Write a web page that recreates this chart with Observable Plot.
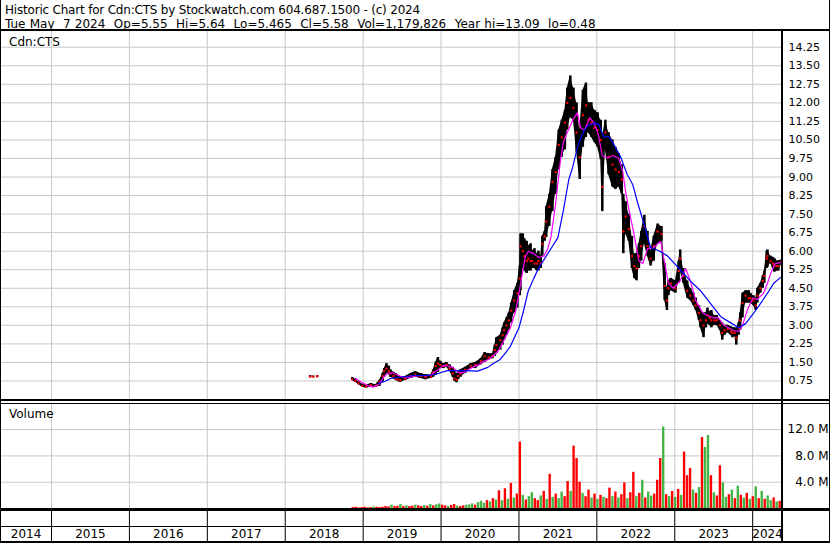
<!DOCTYPE html>
<html><head><meta charset="utf-8">
<script src="https://cdn.jsdelivr.net/npm/d3@7"></script>
<script src="https://cdn.jsdelivr.net/npm/@observablehq/plot@0.6"></script>
<style>
html,body{margin:0;padding:0;background:#fff;}
#chart{position:relative;width:830px;height:543px;overflow:hidden;font-family:"DejaVu Sans",sans-serif;background:#fff;}
.t{position:absolute;white-space:pre;font-size:12px;color:#000;line-height:12px;}
.hl{position:absolute;background:#000;}
#chart svg{position:absolute;left:0;overflow:visible;}
</style></head><body><div id="chart"></div>
<script>
// ---------- header text ----------
const headerLine1 = "Historic Chart for Cdn:CTS by Stockwatch.com 604.687.1500 - (c) 2024";
const headerLine2 = "Tue May  7 2024  Op=5.55  Hi=5.64  Lo=5.465  Cl=5.58  Vol=1,179,826  Year hi=13.09  lo=0.48";
const symbolLabel = "Cdn:CTS";
const volumeLabel = "Volume";

// ---------- axis values ----------
const priceTicks = [0.75,1.50,2.25,3.00,3.75,4.50,5.25,6.00,6.75,7.50,8.25,9.00,9.75,10.50,11.25,12.00,12.75,13.50,14.25];
const volTicks = [4, 8, 12];
const yearBounds = [2015,2016,2017,2018,2019,2020,2021,2022,2023,2024];
const yearLabels = [2014,2015,2016,2017,2018,2019,2020,2021,2022,2023,2024];

// ---------- price bars (decimal year, low, high, close) ----------
const priceDate = [
 2018.32,2018.36,2018.41,2018.86,2018.90,2018.94,2018.99,2019.04,2019.10,2019.16,
 2019.21,2019.25,2019.27,2019.30,2019.33,2019.35,2019.39,2019.42,2019.45,2019.48,
 2019.54,2019.61,2019.67,2019.74,2019.80,2019.87,2019.90,2019.93,2019.96,2019.99,
 2020.03,2020.07,2020.11,2020.15,2020.17,2020.20,2020.22,2020.25,2020.31,2020.38,
 2020.44,2020.51,2020.56,2020.61,2020.66,2020.69,2020.71,2020.76,2020.79,2020.81,
 2020.84,2020.87,2020.90,2020.94,2020.98,2021.01,2021.02,2021.05,2021.07,2021.10,
 2021.12,2021.15,2021.17,2021.20,2021.23,2021.25,2021.28,2021.30,2021.33,2021.35,
 2021.39,2021.43,2021.47,2021.51,2021.55,2021.59,2021.62,2021.66,2021.70,2021.74,
 2021.78,2021.82,2021.86,2021.89,2021.93,2021.97,2022.01,2022.05,2022.07,2022.11,
 2022.15,2022.20,2022.24,2022.28,2022.32,2022.34,2022.37,2022.41,2022.45,2022.48,
 2022.51,2022.54,2022.57,2022.61,2022.65,2022.69,2022.73,2022.78,2022.83,2022.87,
 2022.90,2022.92,2022.95,2023.01,2023.05,2023.07,2023.11,2023.16,2023.20,2023.24,
 2023.27,2023.31,2023.33,2023.37,2023.40,2023.42,2023.45,2023.47,2023.51,2023.54,
 2023.58,2023.61,2023.64,2023.68,2023.72,2023.74,2023.77,2023.79,2023.82,2023.84,
 2023.87,2023.91,2023.95,2023.97,2024.01,2024.04,2024.06,2024.10,2024.13,2024.15,
 2024.18,2024.19,2024.23,2024.26,2024.28,2024.31,2024.33,2024.37];
const priceLow = [
 0.88,0.90,0.88,0.77,0.70,0.61,0.50,0.47,0.50,0.50,
 0.53,0.70,0.90,1.05,1.00,0.90,0.85,0.77,0.72,0.70,
 0.77,0.85,0.90,0.85,0.80,0.85,0.90,0.97,1.10,1.25,
 1.25,1.30,1.15,0.90,0.75,0.68,0.80,0.90,1.05,1.25,
 1.25,1.40,1.50,1.60,1.65,1.75,1.85,2.00,2.20,2.40,
 2.60,2.80,3.10,3.50,3.70,4.20,4.40,5.30,5.20,5.10,
 5.20,5.20,5.30,5.30,5.20,5.20,5.30,5.80,6.40,6.55,
 7.00,7.60,8.30,9.30,9.80,10.10,10.90,11.40,11.30,10.00,
 8.90,10.20,10.60,10.80,10.60,10.40,10.20,9.70,7.60,10.10,
 9.10,8.60,8.50,8.60,8.30,5.90,6.70,6.40,5.30,4.90,
 4.80,5.30,5.60,6.30,5.80,5.40,5.60,6.30,6.40,4.00,
 3.60,4.20,4.40,4.30,4.70,5.20,4.70,4.10,4.00,3.80,
 3.60,3.20,2.90,2.50,2.90,3.05,3.00,2.90,3.00,3.00,
 2.80,2.40,2.60,2.70,2.60,2.50,2.55,2.20,2.60,2.80,
 3.30,3.90,3.90,3.90,3.80,3.60,3.90,4.30,4.50,4.70,
 5.30,5.35,5.50,5.30,5.15,5.20,5.20,5.465];
const priceHigh = [
 0.97,0.95,0.97,0.89,0.82,0.72,0.62,0.58,0.65,0.60,
 0.77,1.05,1.25,1.45,1.35,1.20,1.10,1.05,0.95,0.90,
 0.93,1.05,1.13,1.05,1.00,1.00,1.20,1.50,1.70,1.55,
 1.45,1.50,1.40,1.30,1.15,1.05,1.10,1.20,1.30,1.45,
 1.50,1.65,1.90,1.85,1.85,2.20,2.50,2.60,2.90,3.10,
 3.30,3.50,3.90,4.40,4.70,5.40,6.70,6.70,6.50,6.40,
 6.20,6.30,6.00,6.10,5.90,6.00,5.80,6.60,6.80,7.80,
 8.30,9.30,9.80,10.90,11.30,11.70,12.60,13.09,12.60,12.00,
 10.90,12.50,12.80,12.00,12.00,11.70,11.60,11.30,10.60,11.30,
 10.80,10.50,10.20,9.95,9.50,8.30,8.00,7.50,6.60,5.90,
 5.90,6.30,6.80,7.45,6.80,6.00,6.60,7.10,7.00,5.50,
 4.50,4.80,4.90,4.80,5.60,6.05,5.30,4.80,4.50,4.30,
 4.10,3.80,3.60,3.50,3.50,3.70,3.55,3.60,3.40,3.40,
 3.20,3.10,3.00,3.00,2.95,2.90,2.90,2.85,3.10,3.50,
 4.30,4.40,4.40,4.30,4.20,4.10,4.50,4.70,5.00,5.20,
 6.00,6.05,5.80,5.75,5.70,5.60,5.60,5.64];
const priceClose = [
 0.93,0.92,0.95,0.82,0.75,0.65,0.55,0.52,0.58,0.55,
 0.72,0.95,1.15,1.25,1.15,1.05,0.95,0.85,0.80,0.78,
 0.85,0.95,1.00,0.95,0.90,0.92,1.10,1.35,1.45,1.40,
 1.35,1.40,1.25,1.05,0.85,0.80,0.95,1.05,1.20,1.35,
 1.40,1.55,1.75,1.70,1.75,2.00,2.20,2.40,2.60,2.80,
 3.00,3.20,3.60,4.00,4.30,4.90,6.20,6.00,5.80,5.60,
 5.70,5.60,5.60,5.50,5.50,5.60,5.50,6.30,6.60,7.20,
 7.80,8.80,9.20,10.30,10.60,11.20,12.00,12.20,11.80,10.80,
 9.80,11.50,11.90,11.30,11.20,11.00,10.90,10.50,8.60,10.80,
 9.80,9.50,9.30,9.20,8.90,6.80,7.40,6.90,5.80,5.40,
 5.30,5.80,6.20,7.00,6.20,5.70,6.20,6.80,6.70,4.60,
 4.00,4.50,4.70,4.50,5.20,5.70,5.00,4.40,4.20,4.00,
 3.80,3.50,3.20,3.00,3.20,3.40,3.30,3.20,3.20,3.20,
 3.00,2.70,2.80,2.85,2.75,2.70,2.70,2.50,2.90,3.20,
 3.90,4.20,4.10,4.10,4.00,3.80,4.20,4.50,4.80,5.00,
 5.70,5.80,5.60,5.50,5.40,5.40,5.40,5.58];

// ---------- moving averages ----------
const fastMADate = [2018.90,2018.99,2019.07,2019.13,2019.20,2019.26,2019.31,2019.38,2019.44,2019.51,2019.58,2019.65,2019.74,2019.81,2019.87,2019.94,2020.03,2020.10,2020.16,2020.22,2020.29,2020.35,2020.42,2020.48,2020.55,2020.61,2020.67,2020.73,2020.80,2020.85,2020.89,2020.96,2021.00,2021.05,2021.08,2021.12,2021.19,2021.25,2021.32,2021.37,2021.41,2021.47,2021.53,2021.57,2021.62,2021.69,2021.75,2021.79,2021.84,2021.91,2021.97,2022.02,2022.07,2022.14,2022.21,2022.28,2022.33,2022.37,2022.41,2022.47,2022.54,2022.59,2022.65,2022.73,2022.82,2022.86,2022.92,2022.98,2023.07,2023.14,2023.20,2023.27,2023.36,2023.42,2023.50,2023.56,2023.63,2023.69,2023.75,2023.82,2023.87,2023.93,2024.00,2024.06,2024.14,2024.19,2024.23,2024.29,2024.37];
const fastMA = [0.85,0.68,0.55,0.50,0.60,0.89,1.05,1.08,1.00,0.89,0.88,0.93,0.97,0.95,1.00,1.15,1.38,1.35,1.28,1.10,1.08,1.20,1.33,1.40,1.55,1.62,1.78,1.95,2.35,2.65,2.90,3.60,4.30,5.20,5.75,6.00,5.90,5.75,5.80,6.10,6.55,7.90,9.60,10.40,10.80,11.30,11.60,11.00,10.90,11.40,11.15,10.70,9.85,9.78,9.87,9.75,9.26,8.40,7.70,6.80,5.60,5.50,6.10,6.15,6.40,5.70,4.70,4.50,4.80,5.30,4.80,4.00,3.50,3.40,3.30,3.30,3.00,2.90,2.80,2.75,3.00,3.60,4.10,4.05,4.30,4.70,5.10,5.50,5.55];
const slowMADate = [2019.20,2019.29,2019.35,2019.44,2019.54,2019.65,2019.83,2019.90,2019.99,2020.08,2020.29,2020.47,2020.60,2020.67,2020.76,2020.83,2020.89,2020.94,2021.00,2021.06,2021.12,2021.19,2021.25,2021.34,2021.42,2021.50,2021.57,2021.64,2021.69,2021.75,2021.83,2021.89,2021.98,2022.03,2022.09,2022.15,2022.21,2022.30,2022.39,2022.46,2022.52,2022.60,2022.69,2022.79,2022.91,2023.07,2023.20,2023.33,2023.46,2023.59,2023.72,2023.82,2023.91,2024.01,2024.10,2024.19,2024.27,2024.36];
const slowMA = [0.65,0.75,0.85,0.89,0.92,0.97,0.97,1.00,1.08,1.17,1.17,1.15,1.30,1.46,1.62,1.90,2.15,2.50,2.90,3.60,4.40,4.90,5.30,5.75,6.15,6.55,7.65,8.90,9.40,10.20,10.85,11.10,11.18,11.10,10.60,10.65,10.36,9.85,9.10,8.70,8.00,7.15,6.15,6.03,5.80,5.25,4.80,4.40,3.88,3.35,3.10,2.90,3.07,3.48,3.88,4.30,4.70,4.94];

// ---------- volume (bi-weekly periods from Nov 2018, millions) ----------
const volStart = 2018.865;
const volPeriodDays = 14;
const volume = [
 0.15,0.2,0.1,0.15,0.2,0.1,0.15,0.25,0.2,0.15,
 0.2,0.3,0.25,0.5,0.3,0.35,0.6,0.3,0.4,0.3,
 0.35,0.5,0.4,0.3,0.45,0.35,0.6,0.4,0.55,0.7,
 0.5,0.4,0.3,0.45,0.6,0.35,0.3,0.4,0.5,0.55,
 0.7,0.5,0.9,1.1,0.8,1.2,1.0,1.5,1.3,2.7,
 1.2,3.0,1.4,3.8,1.6,2.2,10.1,2.0,1.3,1.8,
 2.4,1.5,1.2,1.9,2.6,1.4,5.2,1.7,2.2,1.5,
 2.5,1.8,4.1,2.6,9.5,7.6,4.0,2.3,1.8,2.8,
 1.6,2.2,1.4,2.0,1.7,1.5,3.1,1.8,2.5,1.6,
 2.1,3.9,1.5,2.4,5.5,1.8,2.3,4.3,1.6,2.5,
 1.9,2.2,4.3,7.6,12.4,2.1,1.8,2.6,1.7,2.9,
 2.0,8.6,5.0,6.1,2.8,2.3,3.2,10.8,9.3,11.1,
 5.0,2.4,1.9,6.5,3.9,1.7,2.1,2.8,1.5,3.4,
 2.0,1.6,2.3,1.4,1.8,3.3,1.5,2.6,1.4,1.9,
 1.2,1.6,1.0,1.1];
const volColor = (
 "rrrrrrrgrr"+"rrrgrrgrgr"+"rgrrgrgrgg"+"rrgrrgrrgg"+"grgggrgrgr"+
 "grgrgrrgrg"+"grrgrgrgrg"+"grrgrrrgrr"+"grgrgrrgrg"+"rrgrrgrgrg"+
 "grrrgrgrgr"+"grrrgrgrgg"+"rgrrggrgrg"+"rgrgrgrgrg"+"grgr").split("");

// ---------- build ----------
const chart = document.getElementById("chart");
const X0 = 2014.345, X1 = 2024.383;
const FONT = "'DejaVu Sans', sans-serif";
const GRID = "#c8c8c8";

function addText(txt, left, top, size) {
  const d = document.createElement("div");
  d.className = "t"; d.textContent = txt;
  d.style.left = left + "px"; d.style.top = top + "px";
  if (size) d.style.fontSize = size + "px";
  chart.appendChild(d);
  return d;
}
function addLine(left, top, w, h) {
  const d = document.createElement("div");
  d.className = "hl";
  Object.assign(d.style, {left: left+"px", top: top+"px", width: w+"px", height: h+"px"});
  chart.appendChild(d);
}

const n = Math.min(priceDate.length, priceLow.length, priceHigh.length, priceClose.length);
const bars = d3.range(n).map(i => ({date: priceDate[i], low: priceLow[i], high: priceHigh[i], close: priceClose[i]}));
const mainBars = bars.filter(d => d.date > 2018.6);
const fast = fastMADate.map((d, i) => ({date: d, v: fastMA[i]}));
const slow = slowMADate.map((d, i) => ({date: d, v: slowMA[i]}));

const pricePlot = Plot.plot({
  width: 830, height: 368,
  marginLeft: 0, marginRight: 48, marginTop: 0, marginBottom: 0,
  x: {domain: [X0, X1], axis: null},
  y: {domain: [0, 14.887], axis: null},
  style: {fontFamily: FONT, fontSize: "11px", background: "transparent", color: "#000"},
  marks: [
    Plot.ruleY(priceTicks, {stroke: GRID, strokeWidth: 1}),
    Plot.ruleX(yearBounds, {stroke: GRID, strokeWidth: 1}),
    Plot.areaY(mainBars, {x: "date", y1: "low", y2: "high", fill: "#000", curve: "linear"}),
    Plot.ruleX(bars, {x: "date", y1: "low", y2: "high", stroke: "#000", strokeWidth: 2.5}),
    Plot.dot(bars, {x: "date", y: "close", symbol: "square", r: 1.2, fill: "#ff0000", stroke: null}),
    Plot.line(fast, {x: "date", y: "v", stroke: "#ff00ff", strokeWidth: 1.2}),
    Plot.line(slow, {x: "date", y: "v", stroke: "#0000ff", strokeWidth: 1.2}),
    Plot.axisY({anchor: "right", ticks: priceTicks, label: null, tickSize: 0, tickPadding: 6, tickFormat: d => d.toFixed(2), fill: "#000", fontSize: 11})
  ]
});
pricePlot.style.top = "31px";
chart.appendChild(pricePlot);

const vols = volume.map((v, i) => ({date: volStart + i * volPeriodDays / 365.25, v, c: volColor[i] === "g" ? "#44b444" : "#ff0000"}));
const volPlot = Plot.plot({
  width: 830, height: 104,
  marginLeft: 0, marginRight: 48, marginTop: 0, marginBottom: 0,
  x: {domain: [X0, X1], axis: null},
  y: {domain: [0, 15.82], axis: null},
  style: {fontFamily: FONT, fontSize: "12px", background: "transparent", color: "#000"},
  marks: [
    Plot.ruleY(volTicks, {stroke: GRID, strokeWidth: 1}),
    Plot.ruleX(yearBounds, {stroke: GRID, strokeWidth: 1}),
    Plot.ruleX(vols, {x: "date", y1: 0, y2: "v", stroke: "c", strokeWidth: 2.4}),
    Plot.axisY({anchor: "right", ticks: volTicks, label: null, tickSize: 0, tickPadding: 46, textAnchor: "end", tickFormat: d => d.toFixed(1) + " M", fill: "#000", fontSize: 12})
  ]
});
volPlot.style.top = "404px";
chart.appendChild(volPlot);

const yearPos = yearLabels.map(y => ({year: String(y), x: (Math.max(y, X0) + Math.min(y + 1, X1)) / 2}));
const yearPlot = Plot.plot({
  width: 830, height: 30,
  marginLeft: 0, marginRight: 48, marginTop: 0, marginBottom: 0,
  x: {domain: [X0, X1], axis: null},
  y: {domain: [0, 30], axis: null},
  style: {fontFamily: FONT, fontSize: "12px", background: "transparent", color: "#000"},
  marks: [
    Plot.ruleX(yearBounds, {stroke: "#000", strokeWidth: 1}),
    Plot.text(yearPos, {x: "x", y: 7, text: "year", fill: "#000", fontSize: 12})
  ]
});
yearPlot.style.top = "511px";
chart.appendChild(yearPlot);

// frame lines
addLine(0, 29, 830, 2);      // under header
addLine(0, 399, 830, 2);     // price / volume separator
addLine(0, 403, 830, 1);
addLine(0, 508, 830, 3);     // under volume
addLine(0, 526, 782, 1);
addLine(0, 541, 830, 2);     // bottom
addLine(781, 30, 2, 513);    // right axis line
addLine(0, 0, 1, 543);       // left border
addLine(829, 0, 1, 543);     // right border

// texts
const h1 = addText(headerLine1, 5, 4); h1.style.letterSpacing = "-0.2px";
const h2 = addText(headerLine2, 5, 18); h2.style.wordSpacing = "0.4px";
addText(symbolLabel, 9, 36);
addText(volumeLabel, 9, 408);
</script></body></html>
